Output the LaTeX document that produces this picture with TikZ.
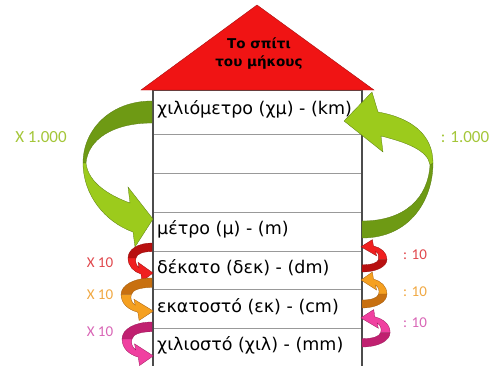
\documentclass[tikz,border=0pt]{standalone}
\usepackage{fontspec}
\setmainfont{DejaVu Sans}
\newfontfamily\labfont{Carlito}
\definecolor{roofred}{HTML}{F01414}
\definecolor{gdark}{HTML}{6E9A14}
\definecolor{glight}{HTML}{9CCB1C}
\definecolor{rdark}{HTML}{B81010}
\definecolor{rlight}{HTML}{F02020}
\definecolor{odark}{HTML}{C87010}
\definecolor{olight}{HTML}{F5A020}
\definecolor{pdark}{HTML}{C02070}
\definecolor{plight}{HTML}{F040A0}
\definecolor{labgreen}{HTML}{A4C639}
\definecolor{labred}{HTML}{E0474C}
\definecolor{laborange}{HTML}{F0A842}
\definecolor{labpink}{HTML}{D865B5}
% small ribbon arrow: #1 dark, #2 light, #3 origin x, #4 origin y, #5 xscale, #6 yscale
\newcommand\smallribbon[6]{%
\begin{scope}[shift={(#3,#4)},xscale=#5,yscale=#6]
 \filldraw[fill=#1,draw=#1!80!black,line width=0.3pt]
   (0,0) .. controls (-14,0) and (-24,6) .. (-24,14) -- (-16,14)
   .. controls (-15,10) and (-9,8) .. (0,8) -- cycle;
 \filldraw[fill=#2,draw=#1!80!black,line width=0.3pt]
   (-24,14) .. controls (-24,22) and (-18,27) .. (-11,29) -- (-10,36) -- (1,28)
   -- (-14,18) -- (-13,23) .. controls (-16,21) and (-17,17) .. (-16,14) -- cycle;
\end{scope}}
\begin{document}
\begin{tikzpicture}[x=1pt,y=-1pt,
  rowtext/.style={anchor=west,inner sep=0pt,font=\fontsize{17.5}{20}\selectfont},
  rooftext/.style={align=center,inner sep=0pt,font=\fontsize{13.5}{18}\selectfont\bfseries},
  lab/.style={inner sep=0pt,font=\labfont\fontsize{15}{16}\selectfont},
  biglab/.style={inner sep=0pt,font=\labfont\fontsize{17}{18}\selectfont,text=labgreen},
  rowline/.style={draw=black!40,line width=0.9pt},
  wall/.style={draw=black!70,line width=1.1pt},
  gband/.style={draw=gdark!80!black,line width=0.3pt}]
\useasboundingbox (0,0) rectangle (503,365);

% the house
\foreach \yy in {134,173,212,251,289,328}
  \draw[rowline] (153,\yy) -- (362,\yy);
\draw[wall] (153,366) -- (153,90) -- (362,90) -- (362,366);
\filldraw[fill=roofred,draw=roofred!70!black,line width=0.4pt]
  (257,5) -- (374,90) -- (141,90) -- cycle;

% big green arrows
\filldraw[gband,fill=gdark] (152,101) .. controls (110,101) and (83,130) .. (83,163)
  -- (86,163) .. controls (88,140) and (112,123) .. (152,123) -- cycle;
\filldraw[gband,fill=glight] (83,163) .. controls (83,195) and (105,222) .. (133,232)
  -- (135,247) -- (153,219) -- (128,187) -- (130,203)
  .. controls (108,195) and (88,182) .. (86,163) -- cycle;

\filldraw[gband,fill=gdark] (362,238) .. controls (410,238) and (433,200) .. (433,163)
  -- (430,165) .. controls (428,198) and (405,221) .. (362,221) -- cycle;
\filldraw[gband,fill=glight] (433,163) .. controls (433,135) and (412,118) .. (378,112)
  -- (372,92) -- (344,121) -- (383,152) -- (381,136)
  .. controls (405,142) and (428,150) .. (430,165) -- cycle;

% small arrows, left side
\smallribbon{rdark}{rlight}{152}{243}{1}{1.07}
\smallribbon{odark}{olight}{152}{278}{1.29}{1.18}
\smallribbon{pdark}{plight}{152}{322}{1.25}{1.21}
% small arrows, right side
\smallribbon{rdark}{rlight}{362}{272}{-1.04}{-0.9}
\smallribbon{odark}{olight}{362}{308}{-1.04}{-1.0}
\smallribbon{pdark}{plight}{362}{347}{-1.17}{-1.04}

\node[rooftext] (title) at (259,54) {Το σπίτι\\του μήκους};

\node[rowtext] (km) at (157,109) {χιλιόμετρο (χμ) - (km)};
\node[rowtext] (m)  at (157,229) {μέτρο (μ) - (m)};
\node[rowtext] (dm) at (157,268) {δέκατο (δεκ) - (dm)};
\node[rowtext] (cm) at (157,307) {εκατοστό (εκ) - (cm)};
\node[rowtext] (mm) at (157,345) {χιλιοστό (χιλ) - (mm)};

% labels
\node[biglab] (times1000) at (41,137) {X 1.000};
\node[biglab] (div1000) at (465,137) {: 1.000};
\node[lab,text=labred] (times10a) at (100,263) {X 10};
\node[lab,text=laborange] (times10b) at (100,295) {X 10};
\node[lab,text=labpink] (times10c) at (100,332) {X 10};
\node[lab,text=labred] (div10a) at (415,255) {: 10};
\node[lab,text=laborange] (div10b) at (415,292) {: 10};
\node[lab,text=labpink] (div10c) at (415,323) {: 10};
\end{tikzpicture}
\end{document}
